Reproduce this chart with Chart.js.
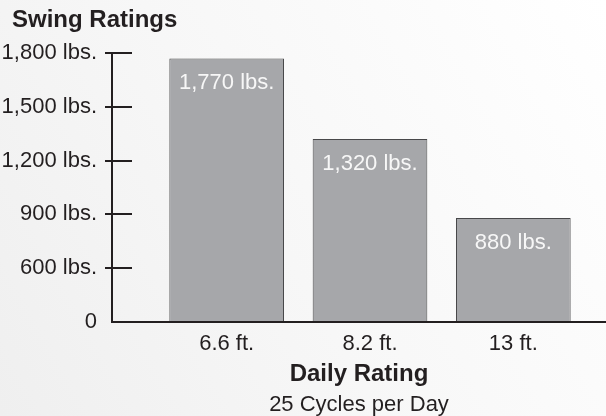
<!DOCTYPE html>
<html>
<head>
<meta charset="utf-8">
<script src="https://cdn.jsdelivr.net/npm/chart.js@4.4.1/dist/chart.umd.min.js"></script>
<style>
  html, body { margin: 0; padding: 0; }
  body {
    width: 606px; height: 416px; overflow: hidden;
    background: linear-gradient(60deg, #efefef 0%, #f7f7f7 45%, #ffffff 100%);
  }
  canvas { display: block; }
</style>
</head>
<body>
<canvas id="chart" width="606" height="416"></canvas>
<script>
var categories = ['6.6 ft.', '8.2 ft.', '13 ft.'];
var ratings = [1770, 1320, 880];
var tickValues = [300, 600, 900, 1200, 1500, 1800];
var chartTitle = 'Swing Ratings';
var axisTitle = 'Daily Rating';
var axisSubtitle = '25 Cycles per Day';

var font = '"Liberation Sans", Arial, Helvetica, sans-serif';
var ink = '#231f20';
var axisGap = 43;

function lbs(v) {
	return v.toLocaleString('en-US') + ' lbs.';
}

var decorations = {
	id: 'decorations',
	afterDatasetsDraw: function (chart) {
		var ctx = chart.ctx;
		var area = chart.chartArea;
		var y = chart.scales.y;
		var axisX = area.left - axisGap;
		var top = y.getPixelForValue(tickValues[tickValues.length - 1]);
		ctx.save();
		ctx.strokeStyle = ink;
		ctx.lineWidth = 2;
		ctx.beginPath();
		ctx.moveTo(axisX, top);
		ctx.lineTo(axisX, area.bottom);
		ctx.moveTo(axisX - 1, area.bottom);
		ctx.lineTo(chart.width, area.bottom);
		tickValues.forEach(function (v) {
			if (v === y.min) return;
			var py = Math.round(y.getPixelForValue(v));
			ctx.moveTo(axisX - 7, py);
			ctx.lineTo(axisX + 20, py);
		});
		ctx.stroke();

		// value labels inside the bars
		var meta = chart.getDatasetMeta(0);
		ctx.fillStyle = '#f7f7f7';
		ctx.font = '22px ' + font;
		ctx.textAlign = 'center';
		ctx.textBaseline = 'alphabetic';
		meta.data.forEach(function (bar, i) {
			ctx.fillText(lbs(ratings[i]), bar.x, bar.y + 31);
		});

		// titles
		ctx.fillStyle = ink;
		ctx.textAlign = 'left';
		ctx.font = 'bold 24px ' + font;
		ctx.fillText(chartTitle, 12, 27);
		var cx = (axisX + chart.width) / 2;
		ctx.textAlign = 'center';
		ctx.fillText(axisTitle, cx, 381);
		ctx.font = '22px ' + font;
		ctx.fillText(axisSubtitle, cx, 411);
		ctx.restore();
	}
};

var chart = new Chart(document.getElementById('chart'), {
	type: 'bar',
	data: {
		labels: categories,
		datasets: [{
			data: ratings,
			backgroundColor: '#a6a7aa',
			borderColor: '#48484a',
			borderWidth: 1,
			borderSkipped: 'bottom',
			barPercentage: 0.8,
			categoryPercentage: 1
		}]
	},
	options: {
		responsive: false,
		animation: false,
		layout: {
			padding: { top: 53, right: 21, left: 0, bottom: 0 }
		},
		plugins: {
			legend: { display: false },
			tooltip: { enabled: false },
			title: { display: false }
		},
		scales: {
			x: {
				grid: { display: false, drawTicks: false },
				border: { display: false },
				ticks: {
					color: ink,
					padding: 9,
					maxRotation: 0,
					font: { family: font, size: 22 }
				},
				afterFit: function (scale) { scale.height = 94; }
			},
			y: {
				min: 300,
				max: 1800,
				grid: { display: false, drawTicks: false },
				border: { display: false },
				ticks: {
					stepSize: 300,
					color: ink,
					padding: 58,
					font: { family: font, size: 22 },
					callback: function (v) { return v === 300 ? '0' : lbs(v); }
				},
				afterFit: function (scale) {
					scale.width = 155;
					scale.paddingTop = 13;
					scale.paddingBottom = 13;
				}
			}
		}
	},
	plugins: [decorations]
});
</script>
</body>
</html>
